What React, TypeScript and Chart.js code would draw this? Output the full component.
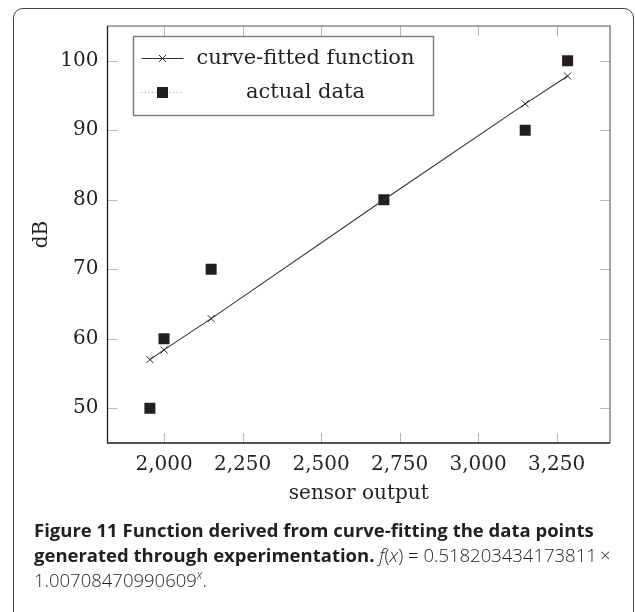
import { useEffect, useRef } from "react";
import { Chart, registerables } from "chart.js";

Chart.register(...registerables);

// ---- data ----
const sensorOutput = [1955, 2000, 2150, 2700, 3150, 3285];
const fittedDB = [57.0, 58.4, 62.9, 80.0, 93.8, 97.8];
const actualDB = [50, 60, 70, 80, 90, 100];
const xTickValues = [2000, 2250, 2500, 2750, 3000, 3250];
const yTickValues = [50, 60, 70, 80, 90, 100];
const seriesLabels = ["curve-fitted function", "actual data"];
const xAxisTitle = "sensor output";
const yAxisTitle = "dB";

const SERIF = "'DejaVu Serif', serif";
const INK = "#231f20";

export default function App() {
  const ref = useRef<HTMLCanvasElement>(null);

  useEffect(() => {
    const canvas = ref.current;
    if (!canvas) return;

    const pgfPlugin = {
      id: "pgfFrame",
      beforeDatasetsDraw(chart: any) {
        const { ctx, chartArea: a, scales } = chart;
        const xs = scales.x;
        const ys = scales.y;
        const tl = 10;
        ctx.save();
        ctx.strokeStyle = "#b9b9b9";
        ctx.lineWidth = 1;
        for (const v of xTickValues) {
          const px = Math.round(xs.getPixelForValue(v)) + 0.5;
          ctx.beginPath();
          ctx.moveTo(px, a.bottom);
          ctx.lineTo(px, a.bottom - tl);
          ctx.moveTo(px, a.top);
          ctx.lineTo(px, a.top + tl);
          ctx.stroke();
        }
        for (const v of yTickValues) {
          const py = Math.round(ys.getPixelForValue(v)) + 0.5;
          ctx.beginPath();
          ctx.moveTo(a.left, py);
          ctx.lineTo(a.left + tl, py);
          ctx.moveTo(a.right, py);
          ctx.lineTo(a.right - tl, py);
          ctx.stroke();
        }
        // frame: top/right lighter, left/bottom darker (as in the reference)
        ctx.strokeStyle = "#8a8a8a";
        ctx.lineWidth = 1.6;
        ctx.beginPath();
        ctx.moveTo(a.left, a.top);
        ctx.lineTo(a.right, a.top);
        ctx.lineTo(a.right, a.bottom);
        ctx.stroke();
        ctx.strokeStyle = "#1c1c1c";
        ctx.lineWidth = 1.3;
        ctx.beginPath();
        ctx.moveTo(a.left, a.top);
        ctx.lineTo(a.left, a.bottom);
        ctx.lineTo(a.right, a.bottom);
        ctx.stroke();
        ctx.restore();
      },
      afterDraw(chart: any) {
        const { ctx, chartArea: a } = chart;
        const bx = Math.round(a.left + 25) + 0.5;
        const by = Math.round(a.top + 10) + 0.5;
        const bw = 300;
        const bh = 79;
        ctx.save();
        ctx.fillStyle = "#ffffff";
        ctx.fillRect(bx, by, bw, bh);
        ctx.strokeStyle = "#7a7a7a";
        ctx.lineWidth = 1.4;
        ctx.strokeRect(bx, by, bw, bh);

        const rows = [by + 22, by + 56];
        const x0 = bx + 8;
        const x1 = bx + 50;
        const xm = bx + 29;

        // row 1: solid line with x marker
        ctx.strokeStyle = "#333";
        ctx.lineWidth = 1;
        ctx.beginPath();
        ctx.moveTo(x0, rows[0]);
        ctx.lineTo(x1, rows[0]);
        ctx.stroke();
        const r = 3.5;
        ctx.beginPath();
        ctx.moveTo(xm - r, rows[0] - r);
        ctx.lineTo(xm + r, rows[0] + r);
        ctx.moveTo(xm - r, rows[0] + r);
        ctx.lineTo(xm + r, rows[0] - r);
        ctx.stroke();

        // row 2: dotted line with square
        ctx.strokeStyle = "#9a9a9a";
        ctx.setLineDash([1, 2.5]);
        ctx.beginPath();
        ctx.moveTo(x0, rows[1]);
        ctx.lineTo(x1, rows[1]);
        ctx.stroke();
        ctx.setLineDash([]);
        ctx.fillStyle = INK;
        ctx.fillRect(xm - 5.5, rows[1] - 5.5, 11, 11);

        // labels, centred in the text column
        ctx.fillStyle = INK;
        ctx.font = "21px " + SERIF;
        ctx.textAlign = "center";
        ctx.textBaseline = "middle";
        const tx = bx + 172;
        ctx.fillText(chart.data.datasets[0].label, tx, rows[0]);
        ctx.fillText(chart.data.datasets[1].label, tx, rows[1]);
        ctx.restore();
      },
    };

    const chart = new Chart(canvas, {
      type: "line",
      data: {
        datasets: [
          {
            label: seriesLabels[0],
            data: sensorOutput.map((x, i) => ({ x, y: fittedDB[i] })),
            borderColor: "#333333",
            borderWidth: 1.1,
            pointStyle: "crossRot",
            pointRadius: 5,
            pointBorderColor: "#222222",
            pointBorderWidth: 1,
            pointBackgroundColor: "#222222",
            tension: 0,
            fill: false,
          },
          {
            label: seriesLabels[1],
            data: sensorOutput.map((x, i) => ({ x, y: actualDB[i] })),
            showLine: false,
            pointStyle: "rect",
            pointRadius: 7.8,
            pointBackgroundColor: INK,
            pointBorderColor: INK,
            pointBorderWidth: 0,
          },
        ],
      },
      options: {
        responsive: false,
        animation: false,
        devicePixelRatio: 1,
        layout: { padding: { left: 0, top: 26, right: 25, bottom: 0 } },
        plugins: {
          legend: { display: false },
          tooltip: { enabled: false },
        },
        scales: {
          x: {
            type: "linear",
            min: 1820,
            max: 3420,
            grid: { display: false, drawTicks: false },
            border: { display: false },
            afterBuildTicks: (s: any) => {
              s.ticks = xTickValues.map((v) => ({ value: v }));
            },
            afterFit: (s: any) => {
              s.height = 67;
            },
            ticks: {
              color: INK,
              padding: 10,
              maxRotation: 0,
              autoSkip: false,
              font: { family: SERIF, size: 20 },
              callback: (v: any) => Number(v).toLocaleString("en-US"),
            },
            title: {
              display: true,
              text: xAxisTitle,
              color: INK,
              font: { family: SERIF, size: 20 },
              padding: { top: 0, bottom: 4 },
            },
          },
          y: {
            type: "linear",
            min: 45,
            max: 105,
            grid: { display: false, drawTicks: false },
            border: { display: false },
            afterBuildTicks: (s: any) => {
              s.ticks = yTickValues.map((v) => ({ value: v }));
            },
            afterFit: (s: any) => {
              s.width = 107.5;
            },
            ticks: {
              color: INK,
              padding: 9,
              autoSkip: false,
              font: { family: SERIF, size: 20 },
              callback: (v: any) => String(v),
            },
            title: {
              display: true,
              text: yAxisTitle,
              color: INK,
              font: { family: SERIF, size: 20 },
              padding: { top: 30, bottom: 0 },
            },
          },
        },
      },
      plugins: [pgfPlugin],
    } as any);

    return () => chart.destroy();
  }, []);

  return (
    <div
      style={{
        position: "absolute",
        left: 0,
        top: 0,
        width: 635,
        height: 612,
        overflow: "hidden",
        background: "#fff",
      }}
    >
      <canvas
        ref={ref}
        width={635}
        height={510}
        style={{ position: "absolute", left: 0, top: 0, width: 635, height: 510 }}
      />
      <div
        style={{
          position: "absolute",
          left: 13,
          top: 8,
          width: 619,
          height: 640,
          border: "1px solid #444",
          borderRadius: 10,
          boxSizing: "content-box",
          pointerEvents: "none",
        }}
      />
      <div
        style={{
          position: "absolute",
          left: 34,
          top: 517,
          width: 598,
          fontFamily: "'Open Sans', sans-serif",
          fontSize: 18.5,
          lineHeight: "25px",
          color: INK,
          whiteSpace: "nowrap",
        }}
      >
        <span style={{ fontWeight: 700 }}>
          Figure 11 Function derived from curve-fitting the data points
        </span>
        <br />
        <span style={{ fontWeight: 700 }}>generated through experimentation.</span>{" "}
        <span style={{ fontWeight: 300 }}>
          <span style={{ fontStyle: "italic" }}>f</span>(<span style={{ fontStyle: "italic" }}>x</span>) = 0.518203434173811{"\u2009"}×
        </span>
        <br />
        <span style={{ fontWeight: 300 }}>
          1.00708470990609
          <span
            style={{
              fontStyle: "italic",
              fontSize: 12,
              position: "relative",
              top: -8,
            }}
          >
            x
          </span>
          .
        </span>
      </div>
    </div>
  );
}
